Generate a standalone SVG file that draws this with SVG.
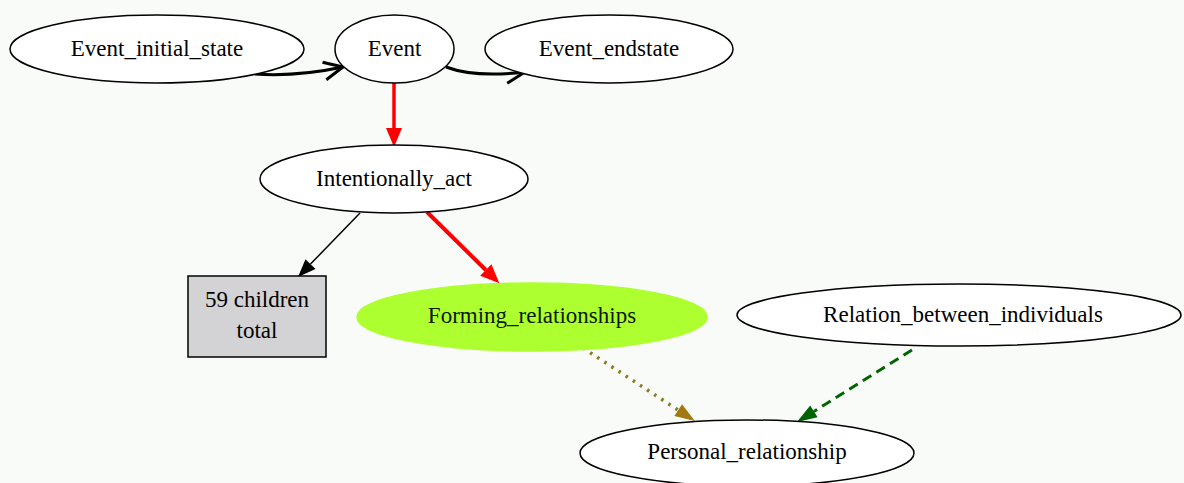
<svg xmlns="http://www.w3.org/2000/svg" width="1184" height="483" viewBox="0 0 1184 483">
<style>
.n{fill:#ffffff;stroke:#000;stroke-width:1.5}
.t{font-family:"Liberation Serif","Times New Roman",serif;font-size:23px;fill:#000;text-anchor:middle}
.e{fill:none}
</style>
<defs>
<marker id="vee" markerUnits="userSpaceOnUse" markerWidth="24" markerHeight="22" refX="20" refY="10" orient="auto" overflow="visible">
<path d="M1,1 L20,10 L1,19" fill="none" stroke="#000" stroke-width="3" stroke-linejoin="round"/>
</marker>
<marker id="aRed" markerUnits="userSpaceOnUse" markerWidth="20" markerHeight="16" refX="0" refY="8" orient="auto" overflow="visible">
<path d="M0,0 L19,8 L0,16 z" fill="#ff0000"/>
</marker>
<marker id="aBlk" markerUnits="userSpaceOnUse" markerWidth="20" markerHeight="16" refX="0" refY="7" orient="auto" overflow="visible">
<path d="M0,0 L18,7 L0,14 z" fill="#000"/>
</marker>
<marker id="aOl" markerUnits="userSpaceOnUse" markerWidth="20" markerHeight="16" refX="0" refY="7" orient="auto" overflow="visible">
<path d="M0,0 L20,7 L0,14 z" fill="#a07a10"/>
</marker>
<marker id="aGr" markerUnits="userSpaceOnUse" markerWidth="20" markerHeight="16" refX="0" refY="7" orient="auto" overflow="visible">
<path d="M0,0 L20,7 L0,14 z" fill="#006400"/>
</marker>
</defs>
<rect x="0" y="0" width="1184" height="483" fill="#f9fbf9"/>
<g id="connectors">
<path class="e" d="M255,74 C285,76 315,73 343,67" stroke="#000" stroke-width="3" marker-end="url(#vee)"/>
<path class="e" d="M446,67 C470,76 500,75 525,72" stroke="#000" stroke-width="3" marker-end="url(#vee)"/>
<path class="e" d="M394,83 L394,128" stroke="#ff0000" stroke-width="3.5" marker-end="url(#aRed)"/>
<path class="e" d="M360,213 L310.5,264.1" stroke="#000" stroke-width="1.5" marker-end="url(#aBlk)"/>
<path class="e" d="M427,212 L485.8,270" stroke="#ff0000" stroke-width="4" marker-end="url(#aRed)"/>
<path class="e" d="M583,348 L678.2,410.1" stroke="#8b7a20" stroke-width="3.5" stroke-dasharray="2.5 6" marker-end="url(#aOl)"/>
<path class="e" d="M912,350 L813.9,411.4" stroke="#006400" stroke-width="3" stroke-dasharray="10 6" marker-end="url(#aGr)"/>
</g>
<g id="Event_initial_state">
<ellipse class="n" cx="157" cy="49" rx="147" ry="34"/>
<text class="t" x="157" y="56">Event_initial_state</text>
</g>
<g id="Event">
<ellipse class="n" cx="394.5" cy="49" rx="59.5" ry="34"/>
<text class="t" x="394.5" y="56">Event</text>
</g>
<g id="Event_endstate">
<ellipse class="n" cx="609" cy="49" rx="124" ry="34"/>
<text class="t" x="609" y="56">Event_endstate</text>
</g>
<g id="Intentionally_act">
<ellipse class="n" cx="394" cy="179" rx="134" ry="34"/>
<text class="t" x="394" y="186">Intentionally_act</text>
</g>
<g id="children_total">
<rect x="188" y="276" width="138" height="81" fill="#d3d3d6" stroke="#000" stroke-width="1.5"/>
<text class="t" x="257" y="307">59 children</text>
<text class="t" x="257" y="338">total</text>
</g>
<g id="Forming_relationships">
<ellipse cx="532" cy="317" rx="175" ry="34" fill="#adff2f" stroke="#adff2f" stroke-width="1.5"/>
<text class="t" x="532" y="323" style="fill:#0a1a00">Forming_relationships</text>
</g>
<g id="Relation_between_individuals">
<ellipse class="n" cx="959" cy="315" rx="222" ry="31"/>
<text class="t" x="963" y="322">Relation_between_individuals</text>
</g>
<g id="Personal_relationship">
<ellipse class="n" cx="747" cy="453" rx="167" ry="33"/>
<text class="t" x="747" y="459">Personal_relationship</text>
</g>
</svg>
